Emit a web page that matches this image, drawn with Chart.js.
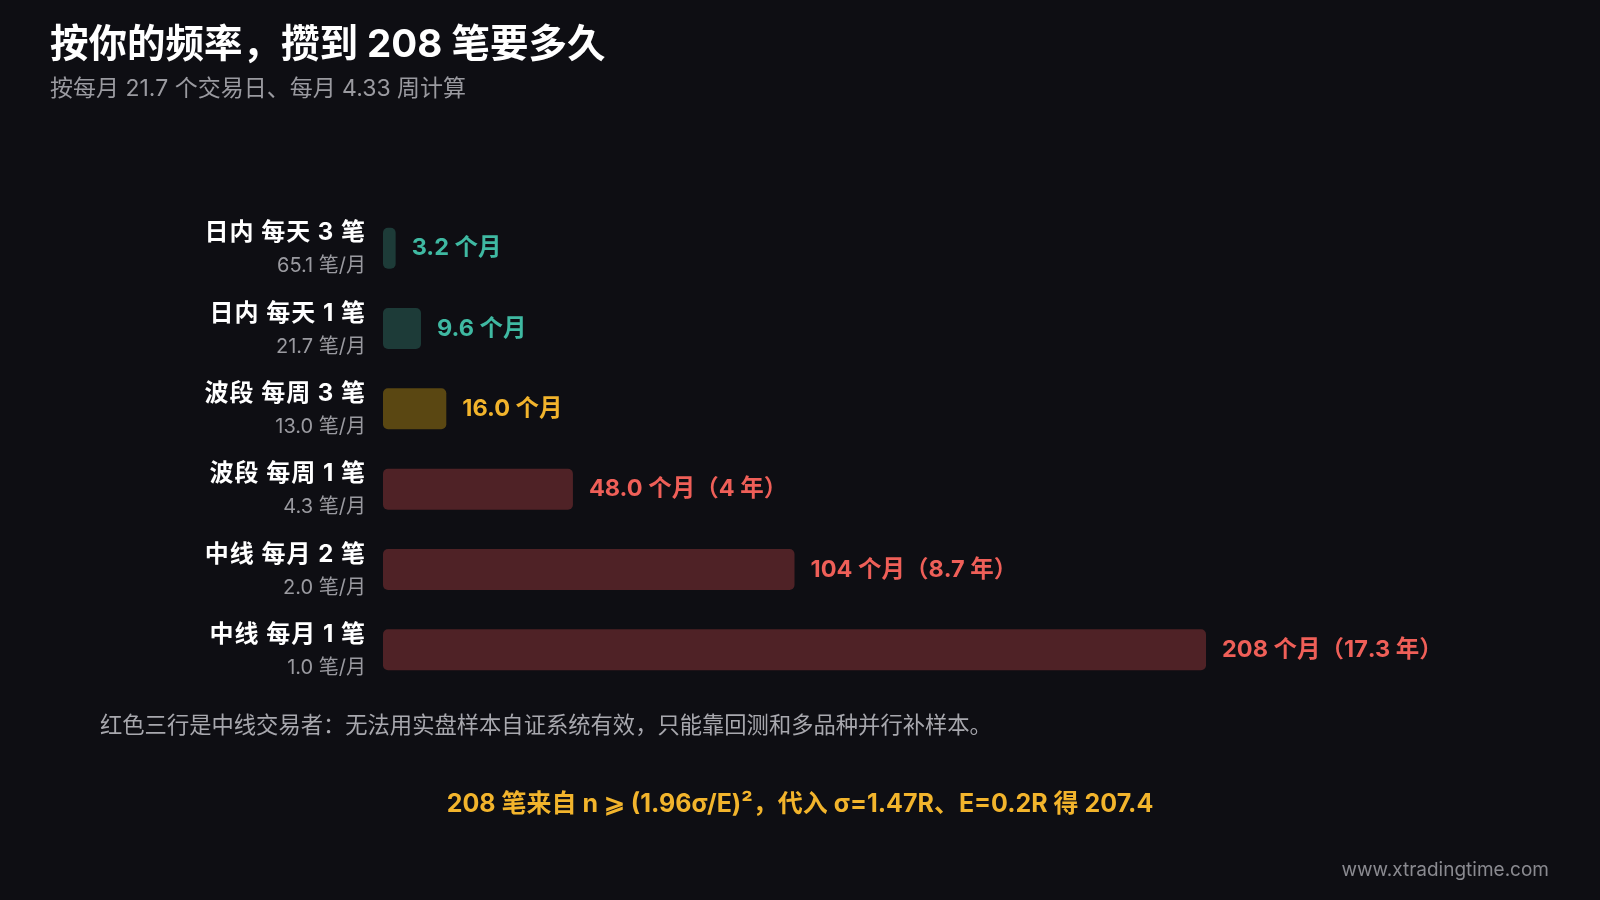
<!DOCTYPE html>
<html><head><meta charset="utf-8">
<script src="https://cdn.jsdelivr.net/npm/chart.js@4"></script>
<style>html,body{margin:0;background:#0e0e13;}canvas{display:block}</style>
</head><body>
<div style="position:relative;width:1600px;height:900px"><canvas id="c" width="1600" height="900"></canvas></div>
<script>
const categories = ["日内 每天 3 笔","日内 每天 1 笔","波段 每周 3 笔","波段 每周 1 笔","中线 每月 2 笔","中线 每月 1 笔"];
const perMonth = ["65.1 笔/月","21.7 笔/月","13.0 笔/月","4.3 笔/月","2.0 笔/月","1.0 笔/月"];
const months = [3.2, 9.6, 16.0, 48.0, 104, 208];
const valueLabels = ["3.2 个月","9.6 个月","16.0 个月","48.0 个月（4 年）","104 个月（8.7 年）","208 个月（17.3 年）"];
const barColors = ["#1d3b38","#1d3b38","#5a4712","#4f2226","#4f2226","#4f2226"];
const labelColors = ["#3fb9a2","#3fb9a2","#f2b42c","#ef5f58","#ef5f58","#ef5f58"];
const F = 'Inter,"Noto Sans CJK SC",sans-serif';

const textPlugin = {
  id:'texts',
  afterDatasetsDraw(chart){
    const ctx = chart.ctx, y = chart.scales.y;
    const meta = chart.getDatasetMeta(0);
    ctx.save();
    ctx.textBaseline='middle';
    categories.forEach((c,i)=>{
      const py = y.getPixelForValue(i);
      ctx.textAlign='right';
      ctx.fillStyle='#ffffff'; ctx.font='bold 24px '+F;
      ctx.letterSpacing='1px';
      ctx.fillText(c, 366, py-15);
      ctx.letterSpacing='0px';
      ctx.fillStyle='#9a9aa0'; ctx.font='20px '+F;
      ctx.fillText(perMonth[i], 366, py+18);
      const bx = meta.data[i].x;
      ctx.textAlign='left';
      ctx.fillStyle=labelColors[i]; ctx.font='bold 23.5px '+F;
      ctx.fillText(valueLabels[i], bx+16, py);
    });
    ctx.textAlign='left';
    ctx.fillStyle='#ffffff'; ctx.font='bold 38.5px '+F;
    ctx.fillText('按你的频率，攒到 208 笔要多久', 50, 45);
    ctx.fillStyle='#9a9aa0'; ctx.font='23px '+F;
    ctx.fillText('按每月 21.7 个交易日、每月 4.33 周计算', 50, 89);
    ctx.fillStyle='#a8a8ae'; ctx.font='22.3px '+F;
    ctx.fillText('红色三行是中线交易者：无法用实盘样本自证系统有效，只能靠回测和多品种并行补样本。', 100, 726);
    ctx.textAlign='center';
    ctx.fillStyle='#f2b42c'; ctx.font='bold 25px '+F;
    ctx.fillText('208 笔来自 n ⩾ (1.96σ/E)²，代入 σ=1.47R、E=0.2R 得 207.4', 800, 804);
    ctx.textAlign='right';
    ctx.fillStyle='#8a8a90'; ctx.font='19px '+F;
    ctx.fillText('www.xtradingtime.com', 1549, 870);
    ctx.restore();
  }
};

new Chart(document.getElementById('c'),{
  type:'bar',
  data:{labels:categories,datasets:[{data:months,backgroundColor:barColors,borderRadius:5,borderSkipped:false,barPercentage:0.51,categoryPercentage:1}]},
  options:{
    indexAxis:'y',responsive:false,animation:false,
    layout:{padding:{left:383,right:394,top:208,bottom:210}},
    plugins:{legend:{display:false},tooltip:{enabled:false}},
    scales:{x:{display:false,min:0,max:208},y:{display:false}}
  },
  plugins:[textPlugin]
});
</script>
</body></html>
